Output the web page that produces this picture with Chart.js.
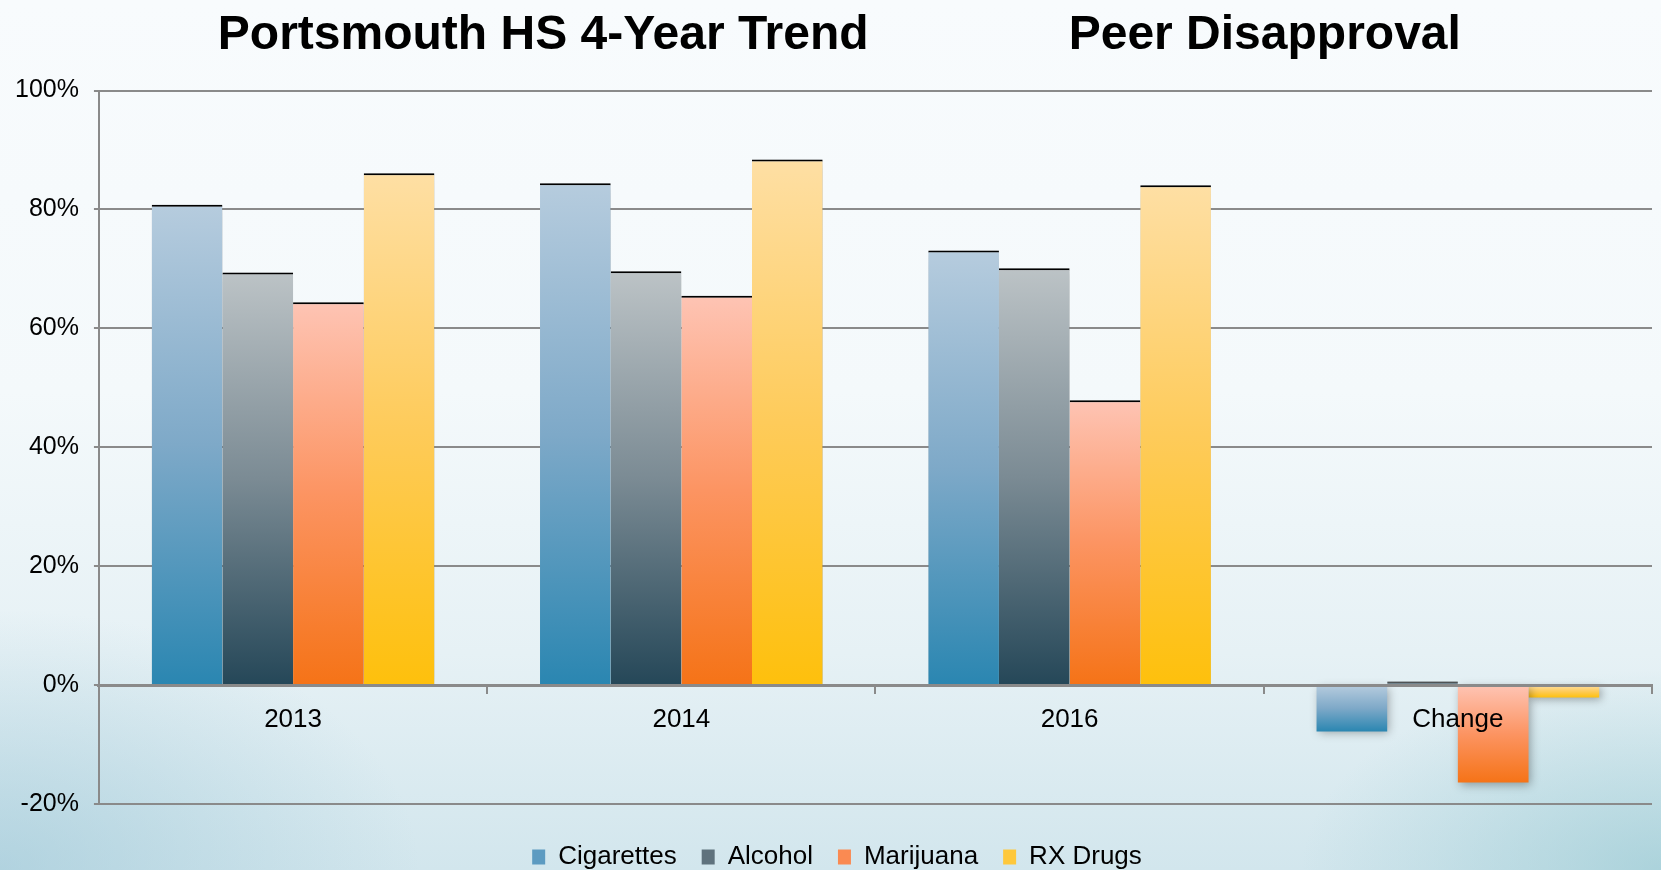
<!DOCTYPE html>
<html>
<head>
<meta charset="utf-8">
<script src="https://cdn.jsdelivr.net/npm/chart.js@4.4.1/dist/chart.umd.min.js"></script>
<style>
html, body { margin: 0; padding: 0; }
#wrap {
  position: relative; width: 1661px; height: 870px; overflow: hidden;
  background:
    radial-gradient(ellipse 420px 260px at 0% 100%, rgba(150,195,212,0.55), rgba(150,195,212,0) 100%),
    radial-gradient(ellipse 360px 200px at 100% 100%, rgba(140,195,205,0.55), rgba(140,195,205,0) 100%),
    linear-gradient(to bottom, #f8fbfd 0%, #f4f9fb 45%, #e6f1f5 75%, #d2e6ed 100%);
}
canvas { display: block; }
</style>
</head>
<body>
<div id="wrap"><canvas id="c" width="1661" height="870"></canvas></div>
<script>
// ---- data ----
const categories = ['2013', '2014', '2016', 'Change'];
const seriesNames = ['Cigarettes', 'Alcohol', 'Marijuana', 'RX Drugs'];
const cigarettes = [80.8, 84.4, 73.1, -7.8];
const alcohol    = [69.4, 69.6, 70.1, 0.6];
const marijuana  = [64.4, 65.5, 47.9, -16.4];
const rxDrugs    = [86.1, 88.4, 84.1, -2.1];
const yTickValues = [-20, 0, 20, 40, 60, 80, 100];
const titleLeft = 'Portsmouth HS 4-Year Trend';
const titleRight = 'Peer Disapproval';

// ---- styles ----
const FONT = "'Liberation Sans', Arial, Helvetica, sans-serif";
const palettes = [
  ['#b6ccde', '#7ea9c8', '#2a86b1'],   // Cigarettes
  ['#bcc3c6', '#7b8b94', '#254758'],   // Alcohol
  ['#fec4b4', '#fc9462', '#f57317'],   // Marijuana
  ['#fedfa4', '#fecb5a', '#fec00c']    // RX Drugs
];
const legendColors = ['#5d9bc1', '#5f727d', '#fa8a52', '#fec83c'];

function gradientFor(stops, solid) {
  return function (ctx) {
    const chart = ctx.chart;
    if (ctx.type !== 'data' || !chart.scales || !chart.scales.y) return solid;
    const y = chart.scales.y;
    const p0 = y.getPixelForValue(0);
    const p1 = y.getPixelForValue(ctx.raw);
    const top = Math.min(p0, p1), bot = Math.max(p0, p1);
    if (!isFinite(top) || !isFinite(bot) || bot - top < 1) return stops[1];
    const g = chart.ctx.createLinearGradient(0, top, 0, bot);
    g.addColorStop(0, stops[0]);
    g.addColorStop(0.5, stops[1]);
    g.addColorStop(1, stops[2]);
    return g;
  };
}

const seriesValues = [cigarettes, alcohol, marijuana, rxDrugs];
const datasets = seriesValues.map((vals, i) => ({
  label: seriesNames[i],
  data: vals,
  backgroundColor: gradientFor(palettes[i], legendColors[i]),
  borderColor: '#000000',
  borderWidth: (ctx) => (ctx.type === 'data' && ctx.raw >= 0) ? { top: 2, right: 0, bottom: 0, left: 0 } : 0,
  categoryPercentage: 0.728,
  barPercentage: 1.0
}));

const shadowPlugin = {
  id: 'barShadow',
  beforeDatasetsDraw(chart) {
    const c = chart.ctx;
    c.save();
    c.shadowColor = 'rgba(0,0,0,0.32)';
    c.shadowBlur = 9;
    c.shadowOffsetX = 2;
    c.shadowOffsetY = 2;
  },
  afterDatasetsDraw(chart) { chart.ctx.restore(); }
};

const legendShift = {
  id: 'legendShift',
  afterLayout(chart) {
    const lg = chart.legend;
    if (lg) { lg.top += 15; lg.bottom += 15; lg.left += 11; lg.right += 11; }
  }
};

new Chart(document.getElementById('c'), {
  type: 'bar',
  data: { labels: categories, datasets },
  plugins: [shadowPlugin, legendShift],
  options: {
    responsive: false,
    animation: false,
    devicePixelRatio: 1,
    layout: { padding: { left: 0, right: 9, top: 0, bottom: 5 } },
    plugins: {
      title: {
        display: true,
        text: '  ' + titleLeft + ' '.repeat(15) + titleRight,
        color: '#000000',
        font: { family: FONT, size: 48, weight: 'bold' },
        padding: { top: 7, bottom: 26 }
      },
      legend: {
        position: 'bottom',
        labels: {
          color: '#000000',
          font: { family: FONT, size: 26 },
          boxWidth: 13,
          boxHeight: 15,
          padding: 25,
          generateLabels: (chart) => {
            const items = Chart.defaults.plugins.legend.labels.generateLabels(chart);
            items.forEach((it, i) => {
              it.fillStyle = legendColors[it.datasetIndex];
              it.lineWidth = 0;
              it.strokeStyle = 'rgba(0,0,0,0)';
            });
            return items;
          }
        }
      },
      tooltip: { enabled: false }
    },
    scales: {
      x: {
        type: 'category',
        position: { y: 0 },
        offset: true,
        grid: {
          offset: true,
          drawOnChartArea: false,
          drawTicks: true,
          tickLength: 7,
          color: '#8a8a8a',
          lineWidth: 2,
          z: 1
        },
        border: { display: true, color: '#8a8a8a', width: 3, z: 1 },
        ticks: {
          color: '#000000',
          font: { family: FONT, size: 26 },
          padding: 12,
          maxRotation: 0,
          z: 2
        }
      },
      y: {
        min: -20,
        max: 100,
        afterBuildTicks: (scale) => { scale.ticks = yTickValues.map(v => ({ value: v })); },
        grid: { color: '#8a8a8a', lineWidth: 2, tickLength: 5 },
        border: { display: true, color: '#8a8a8a', width: 2 },
        ticks: {
          color: '#000000',
          font: { family: FONT, size: 25 },
          padding: 15,
          callback: (v) => v + '%'
        }
      }
    }
  }
});
</script>
</body>
</html>
